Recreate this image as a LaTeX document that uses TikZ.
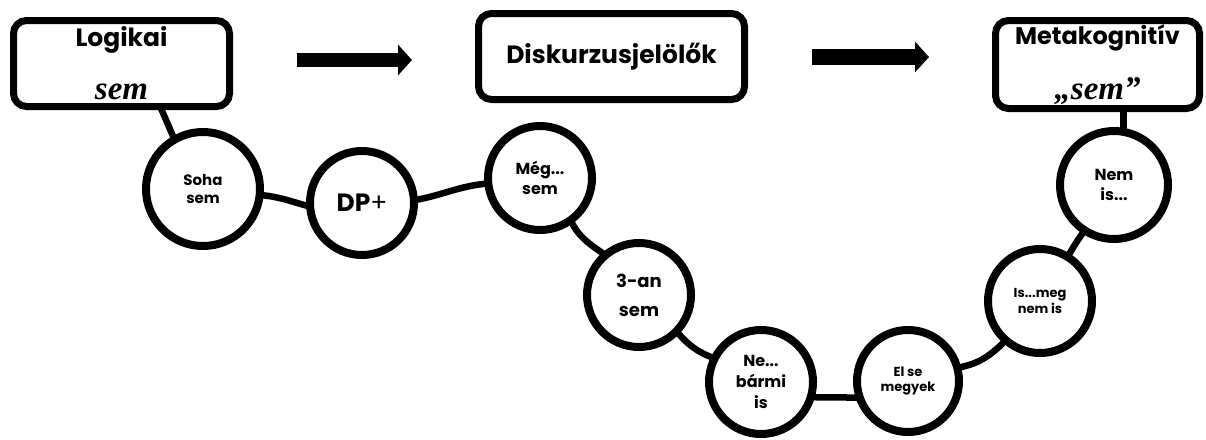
\documentclass[tikz,border=0pt]{standalone}
\usepackage{fontspec}
\newfontfamily\pop{Poppins}
\newfontfamily\semfont{Liberation Serif}
\usetikzlibrary{arrows.meta,backgrounds}
\tikzset{
  box/.style={draw, fill=white, line width=7pt, rounded corners=13pt, align=center,
    inner sep=0pt, outer sep=0pt},
  bub/.style={draw, fill=white, circle, line width=8pt, align=center, inner sep=0pt,
    outer sep=0pt, minimum size=104pt},
  fs/.style n args={2}{font=\pop\bfseries\fontsize{#1}{#2}\selectfont},
  conn/.style={line width=6.5pt, line cap=round},
  blockarrow/.style={line width=#1, -{Triangle[length=14pt,width=30pt]}}
}
\newcommand{\semw}[1]{{\semfont\bfseries\itshape\fontsize{33}{33}\selectfont #1}}
\begin{document}
\begin{tikzpicture}[x=1pt,y=1pt]
\useasboundingbox (0,0) rectangle (1206,-439);
% boxes
\node[box, fs={25}{25}, minimum width=216pt, minimum height=86pt] (b1) at (121.5,-63.5)
  {Logikai\\[28pt]\semw{sem}};
\node[box, fs={25}{25}, minimum width=266pt, minimum height=86pt] (b2) at (611.5,-56.5)
  {Diskurzusjelölők};
\node[box, fs={24}{24}, minimum width=204pt, minimum height=88pt] (b3) at (1097.5,-64.5)
  {Metakognitív\\[26pt]\semw{„sem”}};
% arrows
\coordinate (a1s) at (297,-60);
\coordinate (a1e) at (412,-60);
\coordinate (a2s) at (812,-57);
\coordinate (a2e) at (929,-57);
\draw[blockarrow=14pt] (a1s) -- (a1e);
\draw[blockarrow=16pt] (a2s) -- (a2e);
% circles
\node[bub, fs={15}{18}, minimum size=114pt] (soha) at (203,-189) {Soha\\sem};
\node[bub, fs={25}{25}] (dp) at (362,-203) {DP{\mdseries+}};
\node[bub, fs={16}{20}] (meg) at (540,-178) {Még...\\sem};
\node[bub, fs={18}{29}] (three) at (639,-295) {3-an\\sem};
\node[bub, fs={16}{21}] (ne) at (761,-382) {Ne...\\bármi\\is};
\node[bub, fs={13}{15}, minimum size=102pt] (el) at (908,-381) {El se\\megyek};
\node[bub, fs={13}{16}] (is) at (1040,-301) {Is...meg\\nem is};
\node[bub, fs={16}{20}, minimum size=108pt] (nem) at (1114,-185) {Nem\\is...};
% connectors
\begin{scope}[on background layer]
\draw[conn] (b1.-48) -- (soha.120);
\draw[conn] (soha.-6) to[out=-5,in=165] (dp.184);
\draw[conn] (dp.3) to[out=10,in=185] (meg.186);
\draw[conn] (meg.-54) to[out=-65,in=145] (three.130);
\draw[conn] (three.-44) to[out=-50,in=160] (ne.153);
\draw[conn] (ne.-17) -- (el.199);
\draw[conn] (el.15) to[out=10,in=225] (is.229);
\draw[conn] (is.58) to[out=60,in=235] (nem.237);
\draw[conn] (nem.80) -- (nem.80 |- b3.south);
\end{scope}
\end{tikzpicture}
\end{document}
